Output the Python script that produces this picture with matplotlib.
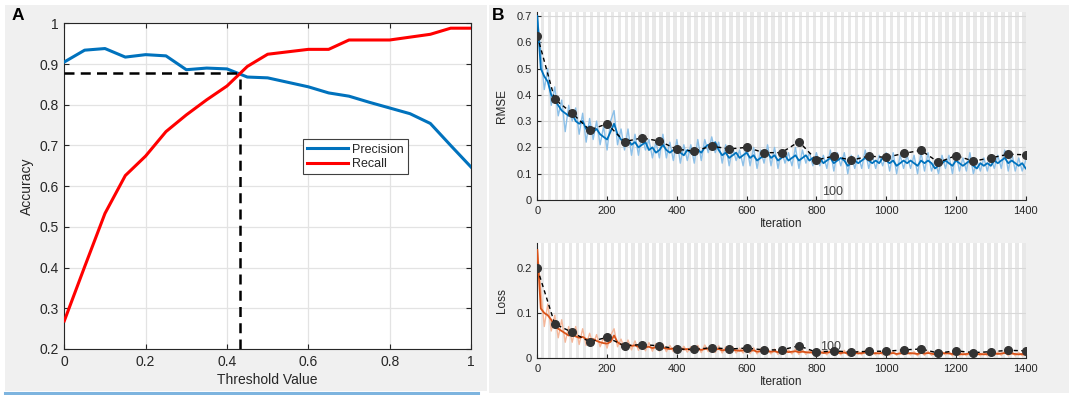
import numpy as np
import matplotlib
matplotlib.use("Agg")
import matplotlib.pyplot as plt
from matplotlib.patches import Rectangle
from matplotlib.lines import Line2D

# ---------------- Data ----------------
thresholds = [0.0, 0.05, 0.10, 0.15, 0.20, 0.25, 0.30, 0.35, 0.40, 0.45, 0.50,
              0.55, 0.60, 0.65, 0.70, 0.75, 0.80, 0.85, 0.90, 0.95, 1.0]
precision = [0.905, 0.934, 0.938, 0.917, 0.923, 0.920, 0.886, 0.890, 0.888, 0.868, 0.866,
             0.855, 0.844, 0.829, 0.821, 0.806, 0.792, 0.778, 0.754, 0.700, 0.647]
recall = [0.269, 0.402, 0.533, 0.626, 0.674, 0.734, 0.775, 0.812, 0.846, 0.894, 0.924,
          0.930, 0.936, 0.936, 0.959, 0.959, 0.959, 0.966, 0.973, 0.988, 0.988]
crossing_threshold = 0.433
crossing_accuracy = 0.877

train_iter = list(range(0, 1401, 10))
rmse_raw = [0.70, 0.56, 0.42, 0.50, 0.36, 0.43, 0.32, 0.38, 0.26, 0.36,
            0.30, 0.35, 0.25, 0.33, 0.22, 0.31, 0.23, 0.30, 0.21, 0.28,
            0.19, 0.30, 0.34, 0.21, 0.27, 0.19, 0.27, 0.17, 0.25, 0.17,
            0.25, 0.19, 0.23, 0.16, 0.22, 0.16, 0.25, 0.16, 0.22, 0.15,
            0.23, 0.14, 0.21, 0.15, 0.21, 0.14, 0.23, 0.15, 0.23, 0.18,
            0.24, 0.18, 0.22, 0.14, 0.21, 0.13, 0.20, 0.15, 0.19, 0.13,
            0.21, 0.13, 0.20, 0.12, 0.19, 0.14, 0.21, 0.13, 0.20, 0.12,
            0.19, 0.14, 0.18, 0.13, 0.20, 0.12, 0.19, 0.14, 0.18, 0.13,
            0.18, 0.13, 0.17, 0.12, 0.19, 0.11, 0.18, 0.13, 0.18, 0.10,
            0.17, 0.12, 0.17, 0.12, 0.19, 0.12, 0.17, 0.12, 0.17, 0.13,
            0.18, 0.11, 0.18, 0.10, 0.17, 0.12, 0.17, 0.12, 0.17, 0.10,
            0.18, 0.11, 0.18, 0.11, 0.15, 0.10, 0.17, 0.12, 0.17, 0.10,
            0.18, 0.11, 0.16, 0.11, 0.18, 0.10, 0.15, 0.11, 0.16, 0.11,
            0.16, 0.12, 0.17, 0.12, 0.19, 0.11, 0.18, 0.11, 0.16, 0.11,
            0.15]
rmse_smooth = [0.70, 0.50, 0.47, 0.45, 0.40, 0.38, 0.36, 0.34, 0.33, 0.32,
               0.33, 0.30, 0.29, 0.30, 0.27, 0.28, 0.26, 0.27, 0.25, 0.24,
               0.23, 0.26, 0.29, 0.25, 0.23, 0.22, 0.23, 0.21, 0.22, 0.20,
               0.21, 0.22, 0.19, 0.20, 0.18, 0.19, 0.21, 0.19, 0.18, 0.19,
               0.20, 0.18, 0.17, 0.19, 0.18, 0.17, 0.19, 0.18, 0.20, 0.21,
               0.20, 0.22, 0.19, 0.17, 0.18, 0.16, 0.17, 0.18, 0.16, 0.17,
               0.18, 0.16, 0.17, 0.15, 0.16, 0.17, 0.18, 0.16, 0.17, 0.15,
               0.16, 0.17, 0.15, 0.16, 0.17, 0.15, 0.16, 0.17, 0.15, 0.16,
               0.15, 0.16, 0.14, 0.15, 0.16, 0.14, 0.15, 0.16, 0.15, 0.13,
               0.14, 0.15, 0.14, 0.15, 0.16, 0.15, 0.14, 0.15, 0.14, 0.16,
               0.15, 0.14, 0.15, 0.13, 0.14, 0.15, 0.14, 0.15, 0.14, 0.13,
               0.15, 0.14, 0.15, 0.14, 0.12, 0.13, 0.14, 0.15, 0.14, 0.13,
               0.15, 0.14, 0.13, 0.14, 0.15, 0.13, 0.12, 0.14, 0.13, 0.14,
               0.13, 0.15, 0.14, 0.15, 0.16, 0.14, 0.15, 0.14, 0.13, 0.14,
               0.12]
loss_raw = [0.245, 0.150, 0.070, 0.120, 0.060, 0.095, 0.045, 0.085, 0.035, 0.070,
            0.035, 0.070, 0.030, 0.065, 0.028, 0.055, 0.030, 0.052, 0.025, 0.045,
            0.022, 0.050, 0.065, 0.025, 0.042, 0.020, 0.040, 0.018, 0.038, 0.017,
            0.035, 0.016, 0.034, 0.015, 0.032, 0.015, 0.031, 0.014, 0.028, 0.014,
            0.028, 0.014, 0.026, 0.013, 0.025, 0.012, 0.028, 0.012, 0.029, 0.014,
            0.028, 0.012, 0.027, 0.011, 0.025, 0.010, 0.025, 0.011, 0.022, 0.011,
            0.025, 0.010, 0.023, 0.009, 0.021, 0.010, 0.021, 0.009, 0.020, 0.008,
            0.019, 0.010, 0.018, 0.009, 0.020, 0.008, 0.019, 0.008, 0.017, 0.008,
            0.017, 0.008, 0.016, 0.007, 0.018, 0.007, 0.016, 0.007, 0.017, 0.006,
            0.016, 0.007, 0.015, 0.007, 0.017, 0.007, 0.014, 0.007, 0.015, 0.007,
            0.016, 0.006, 0.015, 0.006, 0.014, 0.007, 0.014, 0.007, 0.014, 0.005,
            0.015, 0.006, 0.015, 0.006, 0.012, 0.005, 0.014, 0.007, 0.014, 0.005,
            0.014, 0.005, 0.012, 0.005, 0.014, 0.005, 0.012, 0.005, 0.012, 0.005,
            0.012, 0.006, 0.013, 0.006, 0.015, 0.005, 0.014, 0.005, 0.012, 0.005,
            0.011]
loss_smooth = [0.240, 0.110, 0.100, 0.095, 0.085, 0.070, 0.065, 0.060, 0.055, 0.050,
               0.052, 0.048, 0.045, 0.047, 0.042, 0.040, 0.042, 0.038, 0.035, 0.033,
               0.032, 0.036, 0.050, 0.035, 0.030, 0.028, 0.030, 0.027, 0.028, 0.025,
               0.026, 0.024, 0.025, 0.022, 0.024, 0.022, 0.023, 0.021, 0.020, 0.021,
               0.020, 0.021, 0.019, 0.020, 0.018, 0.019, 0.020, 0.018, 0.020, 0.021,
               0.020, 0.019, 0.020, 0.017, 0.018, 0.016, 0.018, 0.017, 0.016, 0.017,
               0.018, 0.016, 0.017, 0.014, 0.015, 0.016, 0.015, 0.014, 0.015, 0.013,
               0.014, 0.015, 0.013, 0.014, 0.015, 0.013, 0.014, 0.013, 0.012, 0.013,
               0.012, 0.013, 0.011, 0.012, 0.013, 0.011, 0.012, 0.011, 0.012, 0.010,
               0.011, 0.012, 0.010, 0.011, 0.012, 0.011, 0.010, 0.011, 0.010, 0.012,
               0.011, 0.010, 0.011, 0.009, 0.010, 0.011, 0.010, 0.011, 0.010, 0.009,
               0.011, 0.010, 0.011, 0.010, 0.008, 0.009, 0.010, 0.011, 0.010, 0.009,
               0.010, 0.009, 0.008, 0.009, 0.010, 0.009, 0.008, 0.009, 0.008, 0.009,
               0.008, 0.010, 0.009, 0.010, 0.011, 0.009, 0.010, 0.009, 0.008, 0.009,
               0.007]

val_iter = list(range(0, 1401, 50))
rmse_val = [0.625, 0.383, 0.330, 0.266, 0.290, 0.222, 0.236, 0.224, 0.193, 0.186,
            0.205, 0.194, 0.200, 0.180, 0.180, 0.222, 0.152, 0.167, 0.151, 0.167,
            0.162, 0.177, 0.189, 0.143, 0.169, 0.148, 0.160, 0.174, 0.172]
loss_val = [0.199, 0.076, 0.057, 0.036, 0.046, 0.027, 0.030, 0.027, 0.020, 0.019,
            0.023, 0.020, 0.022, 0.018, 0.018, 0.027, 0.013, 0.016, 0.013, 0.015,
            0.015, 0.018, 0.020, 0.011, 0.016, 0.012, 0.014, 0.017, 0.016]

iters_per_epoch = 10
epoch_label = "100"

# ---------------- Figure ----------------
W, H = 1074, 395
fig = plt.figure(figsize=(W / 100, H / 100), dpi=100, facecolor="white")
plt.rcParams["font.family"] = ["Liberation Sans", "DejaVu Sans"]
TXT = "#262626"
BG = "#f0f0f0"

def fr(x0, y0, x1, y1):
    """pixel box (top-left origin) -> figure fraction [l, b, w, h]"""
    return [x0 / W, 1 - y1 / H, (x1 - x0) / W, (y1 - y0) / H]

# panel backgrounds
fig.patches.append(Rectangle((5 / W, 1 - 391 / H), 482 / W, 386 / H,
                             transform=fig.transFigure, facecolor=BG, edgecolor="none", zorder=-10))
fig.patches.append(Rectangle((489 / W, 1 - 393 / H), 580 / W, 388 / H,
                             transform=fig.transFigure, facecolor=BG, edgecolor="none", zorder=-10))
fig.lines.append(Line2D([5 / W, 478 / W], [1 - 392.5 / H, 1 - 392.5 / H],
                        transform=fig.transFigure, color="#7db4df", lw=2.2))

# ---------------- Panel A ----------------
axA = fig.add_axes(fr(64.3, 23.3, 471, 349))
axA.set_facecolor("white")
axA.plot(thresholds, precision, color="#0072BD", lw=2.2, label="Precision", zorder=3)
axA.plot(thresholds, recall, color="#FF0000", lw=2.2, label="Recall", zorder=3)
axA.plot([0, crossing_threshold], [crossing_accuracy, crossing_accuracy],
         color="black", lw=1.8, ls=(0, (4, 2.5)), zorder=4)
axA.plot([crossing_threshold, crossing_threshold], [0.2, crossing_accuracy],
         color="black", lw=1.8, ls=(0, (4, 2.5)), zorder=4)
axA.set_xlim(0, 1)
axA.set_ylim(0.2, 1)
axA.set_xticks([0, 0.2, 0.4, 0.6, 0.8, 1])
axA.set_xticklabels(["0", "0.2", "0.4", "0.6", "0.8", "1"])
axA.set_yticks([0.2, 0.3, 0.4, 0.5, 0.6, 0.7, 0.8, 0.9, 1])
axA.set_yticklabels(["0.2", "0.3", "0.4", "0.5", "0.6", "0.7", "0.8", "0.9", "1"])
axA.grid(True, color="#e3e3e3", lw=0.9)
axA.set_axisbelow(True)
axA.tick_params(direction="in", length=3.5, labelsize=10, colors=TXT, pad=4,
                top=True, right=True)
for s in axA.spines.values():
    s.set_color("#262626")
    s.set_linewidth(0.8)
axA.set_xlabel("Threshold Value", fontsize=10, color=TXT, labelpad=3)
axA.set_ylabel("Accuracy", fontsize=10, color=TXT, labelpad=4)
leg = axA.legend(loc="lower left", bbox_to_anchor=(0.586, 0.536), borderaxespad=0,
                 fontsize=9, fancybox=False, framealpha=1, edgecolor="#404040",
                 handlelength=3.3, handletextpad=0.3, borderpad=0.35, labelspacing=0.2)
leg.get_frame().set_linewidth(0.8)
for t in leg.get_texts():
    t.set_color(TXT)
fig.text(12 / W, 1 - 16 / H, "A", fontsize=12.5, fontweight="bold", va="center", ha="left")
fig.text(492 / W, 1 - 16 / H, "B", fontsize=12.5, fontweight="bold", va="center", ha="left")

# ---------------- Panel B ----------------
def style_b(ax, ymax, yticks, ylabels, ylabel):
    ax.set_facecolor("white")
    ax.set_xlim(0, 1400)
    ax.set_ylim(0, ymax)
    for e0 in range(iters_per_epoch, 1400, 2 * iters_per_epoch):
        ax.axvspan(e0, e0 + iters_per_epoch, color="#e8e8e8", lw=0, zorder=0)
    ax.set_xticks(range(0, 1401, 200))
    ax.set_yticks(yticks)
    ax.set_yticklabels(ylabels)
    ax.yaxis.grid(True, color="#d8d8d8", lw=0.8, zorder=1)
    ax.set_axisbelow(True)
    ax.tick_params(direction="in", length=3, labelsize=8, colors=TXT, pad=4)
    for k in ("top", "right"):
        ax.spines[k].set_visible(False)
    for k in ("left", "bottom"):
        ax.spines[k].set_color("#262626")
        ax.spines[k].set_linewidth(0.8)
    ax.set_xlabel("Iteration", fontsize=8.5, color=TXT, labelpad=2)
    ax.set_ylabel(ylabel, fontsize=8.5, color=TXT, labelpad=6)

axB1 = fig.add_axes(fr(537.3, 11.7, 1025.7, 200))
style_b(axB1, 0.716, [0, 0.1, 0.2, 0.3, 0.4, 0.5, 0.6, 0.7],
        ["0", "0.1", "0.2", "0.3", "0.4", "0.5", "0.6", "0.7"], "RMSE")
axB1.plot(train_iter, rmse_raw, color="#8cc0e8", lw=1.0, zorder=2)
axB1.plot(train_iter, rmse_smooth, color="#0072BD", lw=1.3, zorder=3)
axB1.plot(val_iter, rmse_val, color="black", ls=(0, (3, 2.5)), lw=1.0, marker="o",
          markersize=5.5, markerfacecolor="#333333", markeredgecolor="#333333", zorder=4)
axB1.text(845, 0.03, epoch_label, fontsize=9, color="#444444", ha="center", va="center", zorder=5)

axB2 = fig.add_axes(fr(537.3, 243, 1025.7, 358))
style_b(axB2, 0.2556, [0, 0.1, 0.2], ["0", "0.1", "0.2"], "Loss")
axB2.plot(train_iter, loss_raw, color="#f5b79a", lw=1.0, zorder=2)
axB2.plot(train_iter, loss_smooth, color="#D95319", lw=1.3, zorder=3)
axB2.plot(val_iter, loss_val, color="black", ls=(0, (3, 2.5)), lw=1.0, marker="o",
          markersize=5.5, markerfacecolor="#333333", markeredgecolor="#333333", zorder=4)
axB2.text(840, 0.024, epoch_label, fontsize=9, color="#444444", ha="center", va="center", zorder=2.5)

fig.savefig("out.png", dpi=100, facecolor=fig.get_facecolor())
